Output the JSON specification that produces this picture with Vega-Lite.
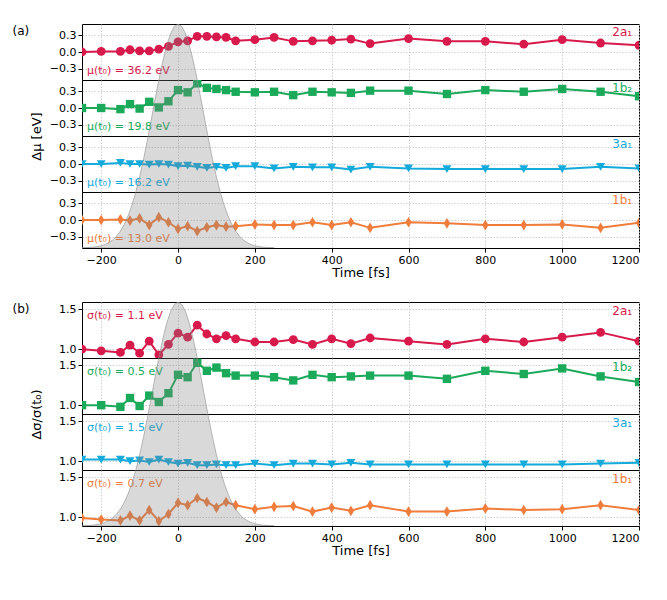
{
  "$schema": "https://vega.github.io/schema/vega-lite/v6.json",
  "padding": {"left": 11, "top": 23, "right": 10, "bottom": 10},
  "datasets": {
    "orbitals": [
      {"t": -250, "orb": "2a1", "dmu": 0.0, "sig": 1.0},
      {"t": -200, "orb": "2a1", "dmu": 0.01, "sig": 0.98},
      {"t": -150, "orb": "2a1", "dmu": 0.01, "sig": 0.96},
      {"t": -125, "orb": "2a1", "dmu": 0.04, "sig": 1.05},
      {"t": -100, "orb": "2a1", "dmu": 0.02, "sig": 0.95},
      {"t": -75, "orb": "2a1", "dmu": 0.02, "sig": 1.1},
      {"t": -50, "orb": "2a1", "dmu": 0.05, "sig": 0.93},
      {"t": -25, "orb": "2a1", "dmu": 0.1, "sig": 1.06},
      {"t": 0, "orb": "2a1", "dmu": 0.18, "sig": 1.2},
      {"t": 25, "orb": "2a1", "dmu": 0.2, "sig": 1.15},
      {"t": 50, "orb": "2a1", "dmu": 0.28, "sig": 1.3},
      {"t": 75, "orb": "2a1", "dmu": 0.28, "sig": 1.19},
      {"t": 100, "orb": "2a1", "dmu": 0.27, "sig": 1.13},
      {"t": 125, "orb": "2a1", "dmu": 0.26, "sig": 1.17},
      {"t": 150, "orb": "2a1", "dmu": 0.2, "sig": 1.13},
      {"t": 200, "orb": "2a1", "dmu": 0.22, "sig": 1.09},
      {"t": 250, "orb": "2a1", "dmu": 0.26, "sig": 1.09},
      {"t": 300, "orb": "2a1", "dmu": 0.19, "sig": 1.12},
      {"t": 350, "orb": "2a1", "dmu": 0.2, "sig": 1.06},
      {"t": 400, "orb": "2a1", "dmu": 0.21, "sig": 1.13},
      {"t": 450, "orb": "2a1", "dmu": 0.23, "sig": 1.07},
      {"t": 500, "orb": "2a1", "dmu": 0.15, "sig": 1.14},
      {"t": 600, "orb": "2a1", "dmu": 0.24, "sig": 1.1},
      {"t": 700, "orb": "2a1", "dmu": 0.19, "sig": 1.06},
      {"t": 800, "orb": "2a1", "dmu": 0.19, "sig": 1.13},
      {"t": 900, "orb": "2a1", "dmu": 0.14, "sig": 1.09},
      {"t": 1000, "orb": "2a1", "dmu": 0.22, "sig": 1.15},
      {"t": 1100, "orb": "2a1", "dmu": 0.16, "sig": 1.21},
      {"t": 1200, "orb": "2a1", "dmu": 0.12, "sig": 1.1},
      {"t": -250, "orb": "1b2", "dmu": 0.0, "sig": 1.0},
      {"t": -200, "orb": "1b2", "dmu": 0.0, "sig": 1.0},
      {"t": -150, "orb": "1b2", "dmu": -0.02, "sig": 0.98},
      {"t": -125, "orb": "1b2", "dmu": 0.07, "sig": 1.09},
      {"t": -100, "orb": "1b2", "dmu": -0.01, "sig": 0.99},
      {"t": -75, "orb": "1b2", "dmu": 0.11, "sig": 1.12},
      {"t": -50, "orb": "1b2", "dmu": 0.01, "sig": 1.04},
      {"t": -25, "orb": "1b2", "dmu": 0.12, "sig": 1.15},
      {"t": 0, "orb": "1b2", "dmu": 0.32, "sig": 1.38},
      {"t": 25, "orb": "1b2", "dmu": 0.28, "sig": 1.35},
      {"t": 50, "orb": "1b2", "dmu": 0.44, "sig": 1.53},
      {"t": 75, "orb": "1b2", "dmu": 0.36, "sig": 1.43},
      {"t": 100, "orb": "1b2", "dmu": 0.34, "sig": 1.47},
      {"t": 125, "orb": "1b2", "dmu": 0.32, "sig": 1.4},
      {"t": 150, "orb": "1b2", "dmu": 0.29, "sig": 1.37},
      {"t": 200, "orb": "1b2", "dmu": 0.28, "sig": 1.37},
      {"t": 250, "orb": "1b2", "dmu": 0.29, "sig": 1.35},
      {"t": 300, "orb": "1b2", "dmu": 0.23, "sig": 1.31},
      {"t": 350, "orb": "1b2", "dmu": 0.29, "sig": 1.38},
      {"t": 400, "orb": "1b2", "dmu": 0.28, "sig": 1.35},
      {"t": 450, "orb": "1b2", "dmu": 0.27, "sig": 1.36},
      {"t": 500, "orb": "1b2", "dmu": 0.31, "sig": 1.37},
      {"t": 600, "orb": "1b2", "dmu": 0.31, "sig": 1.37},
      {"t": 700, "orb": "1b2", "dmu": 0.25, "sig": 1.33},
      {"t": 800, "orb": "1b2", "dmu": 0.32, "sig": 1.43},
      {"t": 900, "orb": "1b2", "dmu": 0.29, "sig": 1.39},
      {"t": 1000, "orb": "1b2", "dmu": 0.34, "sig": 1.46},
      {"t": 1100, "orb": "1b2", "dmu": 0.29, "sig": 1.36},
      {"t": 1200, "orb": "1b2", "dmu": 0.21, "sig": 1.29},
      {"t": -250, "orb": "3a1", "dmu": 0.0, "sig": 1.02},
      {"t": -200, "orb": "3a1", "dmu": 0.0, "sig": 1.02},
      {"t": -150, "orb": "3a1", "dmu": 0.02, "sig": 1.02},
      {"t": -125, "orb": "3a1", "dmu": 0.0, "sig": 1.0},
      {"t": -100, "orb": "3a1", "dmu": 0.0, "sig": 1.01},
      {"t": -75, "orb": "3a1", "dmu": -0.01, "sig": 0.99},
      {"t": -50, "orb": "3a1", "dmu": 0.0, "sig": 1.02},
      {"t": -25, "orb": "3a1", "dmu": -0.01, "sig": 0.99},
      {"t": 0, "orb": "3a1", "dmu": -0.04, "sig": 0.97},
      {"t": 25, "orb": "3a1", "dmu": -0.03, "sig": 0.98},
      {"t": 50, "orb": "3a1", "dmu": -0.05, "sig": 0.95},
      {"t": 75, "orb": "3a1", "dmu": -0.07, "sig": 0.95},
      {"t": 100, "orb": "3a1", "dmu": -0.05, "sig": 0.96},
      {"t": 125, "orb": "3a1", "dmu": -0.07, "sig": 0.95},
      {"t": 150, "orb": "3a1", "dmu": -0.04, "sig": 0.95},
      {"t": 200, "orb": "3a1", "dmu": -0.04, "sig": 0.97},
      {"t": 250, "orb": "3a1", "dmu": -0.08, "sig": 0.95},
      {"t": 300, "orb": "3a1", "dmu": -0.05, "sig": 0.97},
      {"t": 350, "orb": "3a1", "dmu": -0.06, "sig": 0.97},
      {"t": 400, "orb": "3a1", "dmu": -0.06, "sig": 0.96},
      {"t": 450, "orb": "3a1", "dmu": -0.1, "sig": 0.98},
      {"t": 500, "orb": "3a1", "dmu": -0.05, "sig": 0.96},
      {"t": 600, "orb": "3a1", "dmu": -0.08, "sig": 0.96},
      {"t": 700, "orb": "3a1", "dmu": -0.09, "sig": 0.96},
      {"t": 800, "orb": "3a1", "dmu": -0.09, "sig": 0.96},
      {"t": 900, "orb": "3a1", "dmu": -0.09, "sig": 0.96},
      {"t": 1000, "orb": "3a1", "dmu": -0.09, "sig": 0.96},
      {"t": 1100, "orb": "3a1", "dmu": -0.05, "sig": 0.97},
      {"t": 1200, "orb": "3a1", "dmu": -0.08, "sig": 0.98},
      {"t": -250, "orb": "1b1", "dmu": 0.0, "sig": 0.99},
      {"t": -200, "orb": "1b1", "dmu": 0.0, "sig": 0.97},
      {"t": -150, "orb": "1b1", "dmu": 0.01, "sig": 0.96},
      {"t": -125, "orb": "1b1", "dmu": -0.01, "sig": 1.02},
      {"t": -100, "orb": "1b1", "dmu": 0.03, "sig": 0.96},
      {"t": -75, "orb": "1b1", "dmu": -0.09, "sig": 1.09},
      {"t": -50, "orb": "1b1", "dmu": 0.05, "sig": 0.95},
      {"t": -25, "orb": "1b1", "dmu": -0.04, "sig": 1.04},
      {"t": 0, "orb": "1b1", "dmu": -0.16, "sig": 1.18},
      {"t": 25, "orb": "1b1", "dmu": -0.11, "sig": 1.15},
      {"t": 50, "orb": "1b1", "dmu": -0.2, "sig": 1.24},
      {"t": 75, "orb": "1b1", "dmu": -0.13, "sig": 1.19},
      {"t": 100, "orb": "1b1", "dmu": -0.09, "sig": 1.12},
      {"t": 125, "orb": "1b1", "dmu": -0.12, "sig": 1.19},
      {"t": 150, "orb": "1b1", "dmu": -0.11, "sig": 1.15},
      {"t": 200, "orb": "1b1", "dmu": -0.08, "sig": 1.1},
      {"t": 250, "orb": "1b1", "dmu": -0.09, "sig": 1.13},
      {"t": 300, "orb": "1b1", "dmu": -0.09, "sig": 1.14},
      {"t": 350, "orb": "1b1", "dmu": -0.04, "sig": 1.07},
      {"t": 400, "orb": "1b1", "dmu": -0.09, "sig": 1.12},
      {"t": 450, "orb": "1b1", "dmu": -0.04, "sig": 1.08},
      {"t": 500, "orb": "1b1", "dmu": -0.14, "sig": 1.15},
      {"t": 600, "orb": "1b1", "dmu": -0.04, "sig": 1.07},
      {"t": 700, "orb": "1b1", "dmu": -0.06, "sig": 1.07},
      {"t": 800, "orb": "1b1", "dmu": -0.09, "sig": 1.11},
      {"t": 900, "orb": "1b1", "dmu": -0.09, "sig": 1.09},
      {"t": 1000, "orb": "1b1", "dmu": -0.08, "sig": 1.1},
      {"t": 1100, "orb": "1b1", "dmu": -0.14, "sig": 1.15},
      {"t": 1200, "orb": "1b1", "dmu": -0.05, "sig": 1.09}
    ],
    "pulse": [
      {"t": -250, "g": 0.003}, {"t": -220, "g": 0.015}, {"t": -200, "g": 0.041},
      {"t": -190, "g": 0.063}, {"t": -180, "g": 0.097}, {"t": -170, "g": 0.145},
      {"t": -160, "g": 0.212}, {"t": -150, "g": 0.302}, {"t": -140, "g": 0.422},
      {"t": -130, "g": 0.575}, {"t": -120, "g": 0.766}, {"t": -110, "g": 0.997},
      {"t": -100, "g": 1.269}, {"t": -90, "g": 1.579}, {"t": -80, "g": 1.919},
      {"t": -70, "g": 2.279}, {"t": -60, "g": 2.646}, {"t": -50, "g": 3.002},
      {"t": -40, "g": 3.329}, {"t": -30, "g": 3.608}, {"t": -20, "g": 3.82},
      {"t": -10, "g": 3.954}, {"t": 0, "g": 4.0}, {"t": 10, "g": 3.954},
      {"t": 20, "g": 3.82}, {"t": 30, "g": 3.608}, {"t": 40, "g": 3.329},
      {"t": 50, "g": 3.002}, {"t": 60, "g": 2.646}, {"t": 70, "g": 2.279},
      {"t": 80, "g": 1.919}, {"t": 90, "g": 1.579}, {"t": 100, "g": 1.269},
      {"t": 110, "g": 0.997}, {"t": 120, "g": 0.766}, {"t": 130, "g": 0.575},
      {"t": 140, "g": 0.422}, {"t": 150, "g": 0.302}, {"t": 160, "g": 0.212},
      {"t": 170, "g": 0.145}, {"t": 180, "g": 0.097}, {"t": 190, "g": 0.063},
      {"t": 200, "g": 0.041}, {"t": 220, "g": 0.015}, {"t": 250, "g": 0.003}
    ]
  },
  "vconcat": [
    {
      "vconcat": [
        {
          "width": 557, "height": 56,
          "layer": [
            {"layer": [
              {"data": {"name": "orbitals"}, "transform": [{"filter": "datum.orb === '2a1'"}],
               "mark": {"type": "line", "color": "#d7194b", "strokeWidth": 2, "clip": true, "point": {"shape": "circle", "size": 78, "filled": true, "opacity": 1, "color": "#d7194b"}},
               "encoding": {
                 "x": {"field": "t", "type": "quantitative", "scale": {"domain": [-250, 1200], "nice": false}, "axis": {"values": [-200, 0, 200, 400, 600, 800, 1000, 1200], "labels": false, "ticks": false, "title": null}},
                 "y": {"field": "dmu", "type": "quantitative", "scale": {"domain": [-0.5, 0.5], "nice": false}, "axis": {"values": [-0.3, 0, 0.3], "tickCount": 10, "format": ".1f", "title": "(a)", "titleAngle": 0, "titleX": -70, "titleY": 6, "titleAlign": "left", "titleBaseline": "middle", "titleFontSize": 12}}
               }},
              {"data": {"values": [{}]}, "mark": {"type": "text", "text": "μ(t₀) = 36.2 eV", "align": "left", "baseline": "middle", "fontSize": 11, "color": "#d7194b"},
               "encoding": {"x": {"datum": -237}, "y": {"datum": -0.335}}},
              {"data": {"values": [{}]}, "mark": {"type": "text", "text": "2a₁", "align": "right", "baseline": "middle", "fontSize": 12, "color": "#d7194b"},
               "encoding": {"x": {"datum": 1182}, "y": {"datum": 0.35}}}
            ]},
            {"data": {"name": "pulse"}, "mark": {"type": "area", "color": "#808080", "fillOpacity": 0.3, "stroke": "#909090", "strokeOpacity": 0.6, "strokeWidth": 1, "clip": true},
             "encoding": {"x": {"field": "t", "type": "quantitative", "scale": {"domain": [-250, 1200], "nice": false}}, "y": {"field": "g", "type": "quantitative", "scale": {"domain": [3, 4], "nice": false}, "axis": null}, "y2": {"datum": 0}}}
          ],
          "resolve": {"scale": {"y": "independent"}}
        },
        {
          "width": 557, "height": 56,
          "layer": [
            {"layer": [
              {"data": {"name": "orbitals"}, "transform": [{"filter": "datum.orb === '1b2'"}],
               "mark": {"type": "line", "color": "#1aaa5a", "strokeWidth": 2, "clip": true, "point": {"shape": "square", "size": 70, "filled": true, "opacity": 1, "color": "#1aaa5a"}},
               "encoding": {
                 "x": {"field": "t", "type": "quantitative", "scale": {"domain": [-250, 1200], "nice": false}, "axis": {"values": [-200, 0, 200, 400, 600, 800, 1000, 1200], "labels": false, "ticks": false, "title": null}},
                 "y": {"field": "dmu", "type": "quantitative", "scale": {"domain": [-0.5, 0.5], "nice": false}, "axis": {"values": [-0.3, 0, 0.3], "tickCount": 10, "format": ".1f", "title": "Δμ [eV]", "titleX": -46, "titleY": 56, "titleAlign": "center", "titleBaseline": "middle"}}
               }},
              {"data": {"values": [{}]}, "mark": {"type": "text", "text": "μ(t₀) = 19.8 eV", "align": "left", "baseline": "middle", "fontSize": 11, "color": "#1aaa5a"},
               "encoding": {"x": {"datum": -237}, "y": {"datum": -0.335}}},
              {"data": {"values": [{}]}, "mark": {"type": "text", "text": "1b₂", "align": "right", "baseline": "middle", "fontSize": 12, "color": "#1aaa5a"},
               "encoding": {"x": {"datum": 1182}, "y": {"datum": 0.35}}}
            ]},
            {"data": {"name": "pulse"}, "mark": {"type": "area", "color": "#808080", "fillOpacity": 0.3, "stroke": "#909090", "strokeOpacity": 0.6, "strokeWidth": 1, "clip": true},
             "encoding": {"x": {"field": "t", "type": "quantitative", "scale": {"domain": [-250, 1200], "nice": false}}, "y": {"field": "g", "type": "quantitative", "scale": {"domain": [2, 3], "nice": false}, "axis": null}, "y2": {"datum": 0}}}
          ],
          "resolve": {"scale": {"y": "independent"}}
        },
        {
          "width": 557, "height": 56,
          "layer": [
            {"layer": [
              {"data": {"name": "orbitals"}, "transform": [{"filter": "datum.orb === '3a1'"}],
               "mark": {"type": "line", "color": "#14aadc", "strokeWidth": 2, "clip": true, "point": {"shape": "triangle-down", "size": 80, "filled": true, "opacity": 1, "color": "#14aadc"}},
               "encoding": {
                 "x": {"field": "t", "type": "quantitative", "scale": {"domain": [-250, 1200], "nice": false}, "axis": {"values": [-200, 0, 200, 400, 600, 800, 1000, 1200], "labels": false, "ticks": false, "title": null}},
                 "y": {"field": "dmu", "type": "quantitative", "scale": {"domain": [-0.5, 0.5], "nice": false}, "axis": {"values": [-0.3, 0, 0.3], "tickCount": 10, "format": ".1f", "title": null}}
               }},
              {"data": {"values": [{}]}, "mark": {"type": "text", "text": "μ(t₀) = 16.2 eV", "align": "left", "baseline": "middle", "fontSize": 11, "color": "#14aadc"},
               "encoding": {"x": {"datum": -237}, "y": {"datum": -0.335}}},
              {"data": {"values": [{}]}, "mark": {"type": "text", "text": "3a₁", "align": "right", "baseline": "middle", "fontSize": 12, "color": "#14aadc"},
               "encoding": {"x": {"datum": 1182}, "y": {"datum": 0.35}}}
            ]},
            {"data": {"name": "pulse"}, "mark": {"type": "area", "color": "#808080", "fillOpacity": 0.3, "stroke": "#909090", "strokeOpacity": 0.6, "strokeWidth": 1, "clip": true},
             "encoding": {"x": {"field": "t", "type": "quantitative", "scale": {"domain": [-250, 1200], "nice": false}}, "y": {"field": "g", "type": "quantitative", "scale": {"domain": [1, 2], "nice": false}, "axis": null}, "y2": {"datum": 0}}}
          ],
          "resolve": {"scale": {"y": "independent"}}
        },
        {
          "width": 557, "height": 56,
          "layer": [
            {"layer": [
              {"data": {"name": "orbitals"}, "transform": [{"filter": "datum.orb === '1b1'"}],
               "mark": {"type": "line", "color": "#f07d3c", "strokeWidth": 2, "clip": true, "point": {"shape": "M0,-1L0.6,0L0,1L-0.6,0Z", "size": 115, "filled": true, "opacity": 1, "color": "#f07d3c"}},
               "encoding": {
                 "x": {"field": "t", "type": "quantitative", "scale": {"domain": [-250, 1200], "nice": false}, "axis": {"values": [-200, 0, 200, 400, 600, 800, 1000, 1200], "format": "d", "title": "Time [fs]", "titlePadding": 1}},
                 "y": {"field": "dmu", "type": "quantitative", "scale": {"domain": [-0.5, 0.5], "nice": false}, "axis": {"values": [-0.3, 0, 0.3], "tickCount": 10, "format": ".1f", "title": null}}
               }},
              {"data": {"values": [{}]}, "mark": {"type": "text", "text": "μ(t₀) = 13.0 eV", "align": "left", "baseline": "middle", "fontSize": 11, "color": "#f07d3c"},
               "encoding": {"x": {"datum": -237}, "y": {"datum": -0.335}}},
              {"data": {"values": [{}]}, "mark": {"type": "text", "text": "1b₁", "align": "right", "baseline": "middle", "fontSize": 12, "color": "#f07d3c"},
               "encoding": {"x": {"datum": 1182}, "y": {"datum": 0.35}}}
            ]},
            {"data": {"name": "pulse"}, "mark": {"type": "area", "color": "#808080", "fillOpacity": 0.3, "stroke": "#909090", "strokeOpacity": 0.6, "strokeWidth": 1, "clip": true},
             "encoding": {"x": {"field": "t", "type": "quantitative", "scale": {"domain": [-250, 1200], "nice": false}}, "y": {"field": "g", "type": "quantitative", "scale": {"domain": [0, 1], "nice": false}, "axis": null}, "y2": {"datum": 0}}}
          ],
          "resolve": {"scale": {"y": "independent"}}
        }
      ],
      "spacing": 0,
      "bounds": "flush"
    },
    {
      "vconcat": [
        {
          "width": 557, "height": 56,
          "layer": [
            {"layer": [
              {"data": {"name": "orbitals"}, "transform": [{"filter": "datum.orb === '2a1'"}],
               "mark": {"type": "line", "color": "#d7194b", "strokeWidth": 2, "clip": true, "point": {"shape": "circle", "size": 78, "filled": true, "opacity": 1, "color": "#d7194b"}},
               "encoding": {
                 "x": {"field": "t", "type": "quantitative", "scale": {"domain": [-250, 1200], "nice": false}, "axis": {"values": [-200, 0, 200, 400, 600, 800, 1000, 1200], "labels": false, "ticks": false, "title": null}},
                 "y": {"field": "sig", "type": "quantitative", "scale": {"domain": [0.89, 1.59], "nice": false}, "axis": {"values": [1.0, 1.5], "tickCount": 10, "format": ".1f", "title": "(b)", "titleAngle": 0, "titleX": -70, "titleY": 6, "titleAlign": "left", "titleBaseline": "middle", "titleFontSize": 12}}
               }},
              {"data": {"values": [{}]}, "mark": {"type": "text", "text": "σ(t₀) = 1.1 eV", "align": "left", "baseline": "middle", "fontSize": 11, "color": "#d7194b"},
               "encoding": {"x": {"datum": -237}, "y": {"datum": 1.41}}},
              {"data": {"values": [{}]}, "mark": {"type": "text", "text": "2a₁", "align": "right", "baseline": "middle", "fontSize": 12, "color": "#d7194b"},
               "encoding": {"x": {"datum": 1182}, "y": {"datum": 1.48}}}
            ]},
            {"data": {"name": "pulse"}, "mark": {"type": "area", "color": "#808080", "fillOpacity": 0.3, "stroke": "#909090", "strokeOpacity": 0.6, "strokeWidth": 1, "clip": true},
             "encoding": {"x": {"field": "t", "type": "quantitative", "scale": {"domain": [-250, 1200], "nice": false}}, "y": {"field": "g", "type": "quantitative", "scale": {"domain": [3, 4], "nice": false}, "axis": null}, "y2": {"datum": 0}}}
          ],
          "resolve": {"scale": {"y": "independent"}}
        },
        {
          "width": 557, "height": 56,
          "layer": [
            {"layer": [
              {"data": {"name": "orbitals"}, "transform": [{"filter": "datum.orb === '1b2'"}],
               "mark": {"type": "line", "color": "#1aaa5a", "strokeWidth": 2, "clip": true, "point": {"shape": "square", "size": 70, "filled": true, "opacity": 1, "color": "#1aaa5a"}},
               "encoding": {
                 "x": {"field": "t", "type": "quantitative", "scale": {"domain": [-250, 1200], "nice": false}, "axis": {"values": [-200, 0, 200, 400, 600, 800, 1000, 1200], "labels": false, "ticks": false, "title": null}},
                 "y": {"field": "sig", "type": "quantitative", "scale": {"domain": [0.89, 1.59], "nice": false}, "axis": {"values": [1.0, 1.5], "tickCount": 10, "format": ".1f", "title": "Δσ/σ(t₀)", "titleX": -46, "titleY": 56, "titleAlign": "center", "titleBaseline": "middle"}}
               }},
              {"data": {"values": [{}]}, "mark": {"type": "text", "text": "σ(t₀) = 0.5 eV", "align": "left", "baseline": "middle", "fontSize": 11, "color": "#1aaa5a"},
               "encoding": {"x": {"datum": -237}, "y": {"datum": 1.41}}},
              {"data": {"values": [{}]}, "mark": {"type": "text", "text": "1b₂", "align": "right", "baseline": "middle", "fontSize": 12, "color": "#1aaa5a"},
               "encoding": {"x": {"datum": 1182}, "y": {"datum": 1.48}}}
            ]},
            {"data": {"name": "pulse"}, "mark": {"type": "area", "color": "#808080", "fillOpacity": 0.3, "stroke": "#909090", "strokeOpacity": 0.6, "strokeWidth": 1, "clip": true},
             "encoding": {"x": {"field": "t", "type": "quantitative", "scale": {"domain": [-250, 1200], "nice": false}}, "y": {"field": "g", "type": "quantitative", "scale": {"domain": [2, 3], "nice": false}, "axis": null}, "y2": {"datum": 0}}}
          ],
          "resolve": {"scale": {"y": "independent"}}
        },
        {
          "width": 557, "height": 56,
          "layer": [
            {"layer": [
              {"data": {"name": "orbitals"}, "transform": [{"filter": "datum.orb === '3a1'"}],
               "mark": {"type": "line", "color": "#14aadc", "strokeWidth": 2, "clip": true, "point": {"shape": "triangle-down", "size": 80, "filled": true, "opacity": 1, "color": "#14aadc"}},
               "encoding": {
                 "x": {"field": "t", "type": "quantitative", "scale": {"domain": [-250, 1200], "nice": false}, "axis": {"values": [-200, 0, 200, 400, 600, 800, 1000, 1200], "labels": false, "ticks": false, "title": null}},
                 "y": {"field": "sig", "type": "quantitative", "scale": {"domain": [0.89, 1.59], "nice": false}, "axis": {"values": [1.0, 1.5], "tickCount": 10, "format": ".1f", "title": null}}
               }},
              {"data": {"values": [{}]}, "mark": {"type": "text", "text": "σ(t₀) = 1.5 eV", "align": "left", "baseline": "middle", "fontSize": 11, "color": "#14aadc"},
               "encoding": {"x": {"datum": -237}, "y": {"datum": 1.41}}},
              {"data": {"values": [{}]}, "mark": {"type": "text", "text": "3a₁", "align": "right", "baseline": "middle", "fontSize": 12, "color": "#14aadc"},
               "encoding": {"x": {"datum": 1182}, "y": {"datum": 1.48}}}
            ]},
            {"data": {"name": "pulse"}, "mark": {"type": "area", "color": "#808080", "fillOpacity": 0.3, "stroke": "#909090", "strokeOpacity": 0.6, "strokeWidth": 1, "clip": true},
             "encoding": {"x": {"field": "t", "type": "quantitative", "scale": {"domain": [-250, 1200], "nice": false}}, "y": {"field": "g", "type": "quantitative", "scale": {"domain": [1, 2], "nice": false}, "axis": null}, "y2": {"datum": 0}}}
          ],
          "resolve": {"scale": {"y": "independent"}}
        },
        {
          "width": 557, "height": 56,
          "layer": [
            {"layer": [
              {"data": {"name": "orbitals"}, "transform": [{"filter": "datum.orb === '1b1'"}],
               "mark": {"type": "line", "color": "#f07d3c", "strokeWidth": 2, "clip": true, "point": {"shape": "M0,-1L0.6,0L0,1L-0.6,0Z", "size": 115, "filled": true, "opacity": 1, "color": "#f07d3c"}},
               "encoding": {
                 "x": {"field": "t", "type": "quantitative", "scale": {"domain": [-250, 1200], "nice": false}, "axis": {"values": [-200, 0, 200, 400, 600, 800, 1000, 1200], "format": "d", "title": "Time [fs]", "titlePadding": 1}},
                 "y": {"field": "sig", "type": "quantitative", "scale": {"domain": [0.89, 1.59], "nice": false}, "axis": {"values": [1.0, 1.5], "tickCount": 10, "format": ".1f", "title": null}}
               }},
              {"data": {"values": [{}]}, "mark": {"type": "text", "text": "σ(t₀) = 0.7 eV", "align": "left", "baseline": "middle", "fontSize": 11, "color": "#f07d3c"},
               "encoding": {"x": {"datum": -237}, "y": {"datum": 1.41}}},
              {"data": {"values": [{}]}, "mark": {"type": "text", "text": "1b₁", "align": "right", "baseline": "middle", "fontSize": 12, "color": "#f07d3c"},
               "encoding": {"x": {"datum": 1182}, "y": {"datum": 1.48}}}
            ]},
            {"data": {"name": "pulse"}, "mark": {"type": "area", "color": "#808080", "fillOpacity": 0.3, "stroke": "#909090", "strokeOpacity": 0.6, "strokeWidth": 1, "clip": true},
             "encoding": {"x": {"field": "t", "type": "quantitative", "scale": {"domain": [-250, 1200], "nice": false}}, "y": {"field": "g", "type": "quantitative", "scale": {"domain": [0, 1], "nice": false}, "axis": null}, "y2": {"datum": 0}}}
          ],
          "resolve": {"scale": {"y": "independent"}}
        }
      ],
      "spacing": 0,
      "bounds": "flush"
    }
  ],
  "spacing": 21,
  "config": {
    "font": "DejaVu Sans",
    "view": {"stroke": "black", "strokeWidth": 1},
    "axis": {
      "grid": true, "gridDash": [1.5, 1.5], "gridColor": "#c4c4c4", "gridWidth": 0.8,
      "domain": false, "tickColor": "black", "tickSize": 4,
      "labelFontSize": 11, "labelColor": "black", "labelPadding": 2, "labelOverlap": false,
      "titleFontWeight": "normal", "titleFontSize": 13, "titleColor": "black"
    }
  }
}
